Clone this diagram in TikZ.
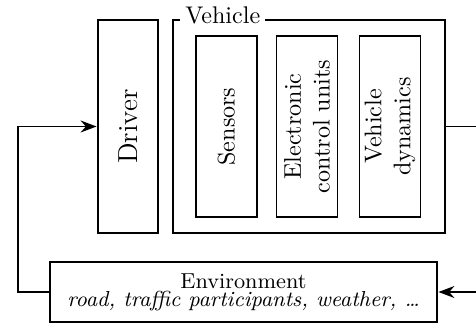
\documentclass[tikz,border=0pt]{standalone}
\usepackage{tikz}
\usetikzlibrary{arrows.meta, positioning}

\tikzset{
  block/.style={draw=black, line width=1.2pt, minimum width=88.4pt, minimum height=24.9pt, inner sep=2pt},
  subblock/.style={draw=black, line width=0.5pt, minimum width=75.1pt, minimum height=25.3pt, inner sep=1pt, align=center},
  link/.style={->, line width=0.8pt},
}

\begin{document}
\begin{tikzpicture}[>=Stealth, x=0.415pt, y=-0.415pt]
        \useasboundingbox (0,0) rectangle (476,322);
        % driver and vehicle
        \node (driver) [block, rotate=90, font=\fontsize{11.4}{13.7}\selectfont] at (128,126.5) {Driver};
        \node (vehicle) [block, minimum width=112.9pt, minimum height=88.4pt] at (309,126.5) {};
        \node (vlabel) [fill=white, anchor=base west, inner sep=2pt] at ([xshift=3.5pt, yshift=-1.9pt]vehicle.north west) {Vehicle};
        \node (sensors) [subblock, rotate=90] at (226.5,126.5) {Sensors};
        \node (ecu) [subblock, rotate=90] at (307,126.5) {Electronic\\control units};
        \node (vdyn) [subblock, rotate=90] at (390,126.5) {Vehicle\\dynamics};
        % environment
        \node (env) [block, minimum width=160.6pt, minimum height=24.9pt, align=center, font=\small] at (243.5,292)
            {Environment\\[-3.5pt]\textit{road, traffic participants, weather, \dots\unkern}};
        \draw [link] (env.west) -- ++(-31,0) |- (driver.north);
        \draw [link] (vehicle.east) -- ++(34,0) |- (env.east);
\end{tikzpicture}
\end{document}
